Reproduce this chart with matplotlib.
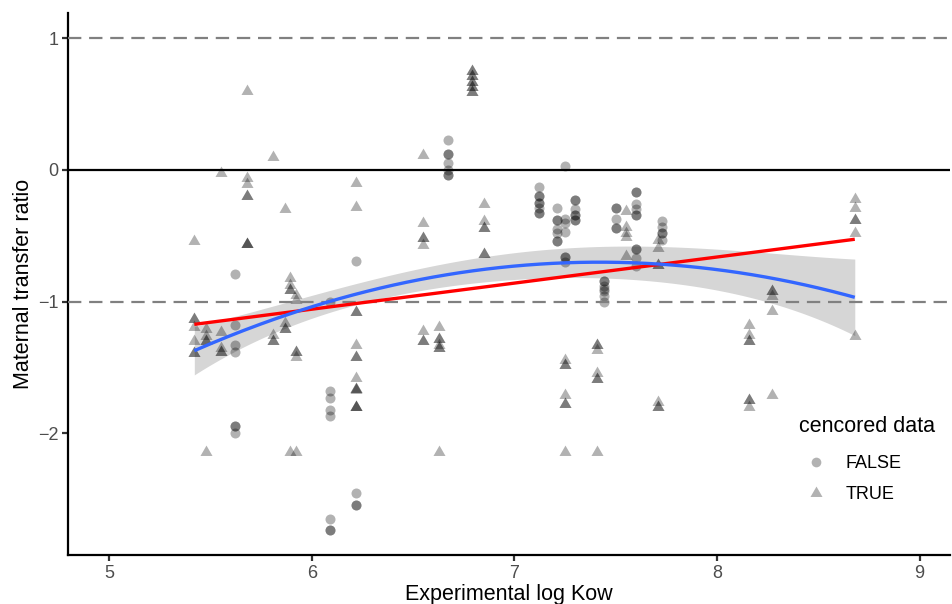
import numpy as np
import matplotlib
matplotlib.use("Agg")
import matplotlib.pyplot as plt
from matplotlib.path import Path
from matplotlib.lines import Line2D

plt.rcParams['font.family'] = ['Liberation Sans', 'DejaVu Sans']

# ---- data ----
# uncensored (FALSE) points
x_false = [5.62]*7 + [6.09]*8 + [6.22]*4 + [6.67]*7 + [7.12]*8 + [7.21]*7 + [7.25]*7 \
    + [7.30]*7 + [7.44]*7 + [7.50]*5 + [7.60]*10 + [7.73]*5
y_false = [-0.79, -1.18, -1.33, -1.38, -1.94, -1.94, -2.00,
           -1.00, -1.68, -1.73, -1.82, -1.87, -2.65, -2.73, -2.73,
           -0.69, -2.45, -2.54, -2.54,
           0.23, 0.12, 0.12, 0.05, 0.00, -0.04, -0.04,
           -0.13, -0.20, -0.20, -0.25, -0.25, -0.29, -0.33, -0.33,
           -0.29, -0.38, -0.38, -0.45, -0.48, -0.54, -0.54,
           0.03, -0.37, -0.40, -0.47, -0.66, -0.66, -0.70,
           -0.23, -0.23, -0.30, -0.34, -0.34, -0.38, -0.38,
           -0.84, -0.84, -0.88, -0.90, -0.92, -0.96, -1.00,
           -0.29, -0.29, -0.37, -0.44, -0.44,
           -0.17, -0.17, -0.26, -0.30, -0.34, -0.34, -0.60, -0.60, -0.67, -0.73,
           -0.39, -0.43, -0.48, -0.48, -0.53]

# censored (TRUE) points
x_true = [5.42]*7 + [5.48]*5 + [5.55]*5 + [5.68]*8 + [5.81]*4 + [5.87]*4 + [5.89]*5 \
    + [5.92]*6 + [6.22]*14 + [6.55]*8 + [6.63]*7 + [6.79]*10 + [6.85]*6 + [7.25]*7 \
    + [7.41]*7 + [7.55]*5 + [7.71]*7 + [8.16]*7 + [8.27]*5 + [8.68]*6
y_true = [-0.54, -1.13, -1.13, -1.19, -1.30, -1.39, -1.39,
          -1.21, -1.26, -1.30, -1.30, -2.14,
          -0.02, -1.23, -1.35, -1.38, -1.38,
          0.60, -0.06, -0.11, -0.20, -0.20, -0.56, -0.56, -0.56,
          0.10, -1.25, -1.30, -1.30,
          -0.30, -1.16, -1.21, -1.21,
          -0.82, -0.87, -0.91, -0.91, -2.14,
          -0.95, -0.99, -2.14, -1.38, -1.38, -1.42,
          -0.10, -0.28, -1.08, -1.08, -1.33, -1.42, -1.42, -1.58,
          -1.66, -1.66, -1.67, -1.80, -1.80, -1.80,
          0.11, -0.40, -0.52, -0.52, -0.57, -1.22, -1.30, -1.30,
          -1.19, -1.28, -1.28, -1.33, -1.35, -1.35, -2.14,
          0.75, 0.75, 0.71, 0.71, 0.67, 0.67, 0.63, 0.63, 0.59, 0.59,
          -0.26, -0.39, -0.44, -0.44, -0.64, -0.64,
          -1.44, -1.48, -1.48, -1.71, -1.78, -1.78, -2.14,
          -1.33, -1.33, -1.37, -1.54, -1.59, -1.59, -2.14,
          -0.31, -0.43, -0.48, -0.51, -0.65,
          -0.53, -0.59, -0.72, -0.72, -1.76, -1.80, -1.80,
          -1.18, -1.25, -1.30, -1.30, -1.75, -1.75, -1.80,
          -0.92, -0.92, -0.96, -1.07, -1.71,
          -0.22, -0.29, -0.38, -0.38, -0.48, -1.26]

# fitted lines
lin_x_range = [5.42, 8.68]
lin_y_ends = [-1.172, -0.526]          # linear fit, red
quad_vertex_x = 7.42                   # quadratic fit, blue
quad_vertex_y = -0.70
quad_curv = -0.168
band_x = [5.42, 5.80, 6.115, 6.855, 7.225, 7.915, 8.68]   # ribbon half widths
band_hw = [0.185, 0.10, 0.085, 0.10, 0.105, 0.15, 0.29]

x_ticks = [5, 6, 7, 8, 9]
y_ticks = [-2, -1, 0, 1]
legend_title = 'cencored data'
legend_labels = ['FALSE', 'TRUE']

# ---- figure ----
W, H = 953, 604
fig = plt.figure(figsize=(W/100, H/100), dpi=100)
ax = fig.add_axes([68.3/W, 1-555/H, (950-68.3)/W, (555-12.7)/H])
ax.set_xlim(4.798, 9.15)
ax.set_ylim(-2.923, 1.194)

xs = np.linspace(lin_x_range[0], lin_x_range[1], 200)
q = quad_vertex_y + quad_curv*(xs-quad_vertex_x)**2
coef = np.polyfit(band_x, band_hw, 4)
hw = np.polyval(coef, xs)

ax.fill_between(xs, q-hw, q+hw, color='#999999', alpha=0.4, lw=0, zorder=2)

tri = Path([(0, 1), (-0.866, -0.5), (0.866, -0.5), (0, 1)],
           [Path.MOVETO, Path.LINETO, Path.LINETO, Path.CLOSEPOLY])
ax.scatter(x_false, y_false, s=52, marker='o', color='black', alpha=0.3, lw=0, zorder=3)
ax.scatter(x_true, y_true, s=100, marker=tri, color='black', alpha=0.3, lw=0, zorder=3)

ax.axhline(1, color='#808080', lw=1.6, ls=(0, (6, 3.5)), zorder=4)
ax.axhline(-1, color='#808080', lw=1.6, ls=(0, (6, 3.5)), zorder=4)
ax.axhline(0, color='black', lw=1.6, zorder=4)

ax.plot(lin_x_range, lin_y_ends, color='#FF0000', lw=2.4, zorder=5, solid_capstyle='butt')
ax.plot(xs, q, color='#3366FF', lw=2.4, zorder=5, solid_capstyle='butt')

for s in ['top', 'right']:
    ax.spines[s].set_visible(False)
for s in ['left', 'bottom']:
    ax.spines[s].set_linewidth(1.6)
    ax.spines[s].set_color('black')

ax.set_xticks(x_ticks)
ax.set_yticks(y_ticks)
ax.set_xticklabels([str(t) for t in x_ticks])
ax.set_yticklabels([str(t).replace('-', '\u2212') for t in y_ticks])
ax.tick_params(axis='both', length=4, width=1.6, color='#333333',
               labelsize=13, labelcolor='#4D4D4D', pad=3)

ax.set_xlabel('Experimental log Kow', fontsize=15.5, labelpad=1.5)
ax.set_ylabel('Maternal transfer ratio', fontsize=15.5, labelpad=3)

fig.text(799/W, 1-432/H, legend_title, fontsize=15.5, color='black',
         ha='left', va='baseline')
handles = [Line2D([], [], marker='o', ls='none', color='black', alpha=0.3,
                  markersize=7.0, markeredgewidth=0),
           Line2D([], [], marker=tri, ls='none', color='black', alpha=0.3,
                  markersize=10, markeredgewidth=0)]
leg = ax.legend(handles, legend_labels,
                loc='upper left', bbox_to_anchor=(798/W, 1-455/H),
                bbox_transform=fig.transFigure, frameon=False,
                fontsize=13, borderpad=0, borderaxespad=0,
                handlelength=2.0, handletextpad=0.65, labelspacing=0.78)

fig.savefig('out.png', dpi=100)
